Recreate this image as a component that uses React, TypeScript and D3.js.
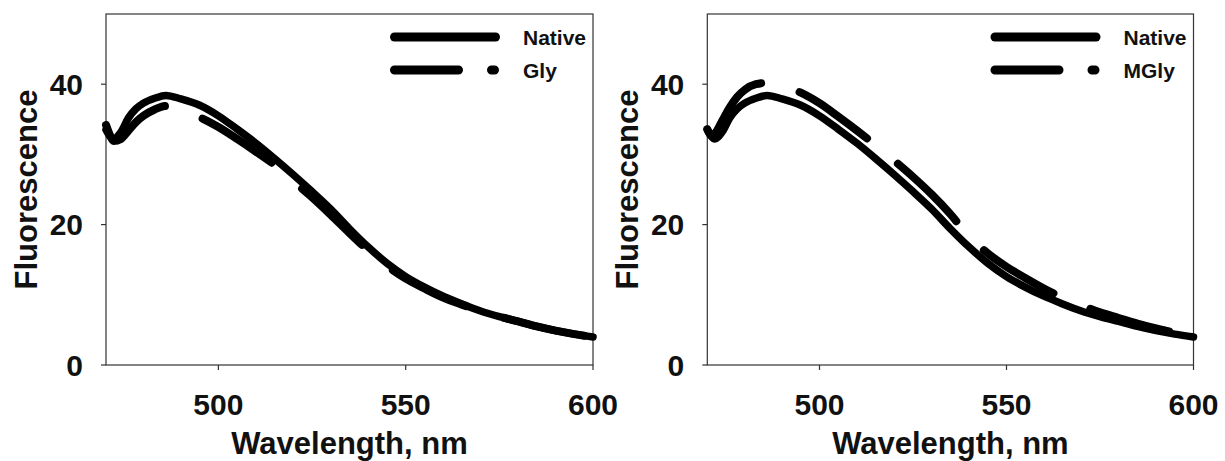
import * as d3 from 'd3';
import React from 'react';

// Emission spectra
const wavelengths = [470, 471, 472, 474, 476, 478, 480, 483, 486, 490, 495, 500, 505, 510, 515, 520,
  525, 530, 535, 540, 545, 550, 555, 560, 565, 570, 575, 580, 585, 590, 595, 600];

const native = [33.5, 32.6, 32.2, 33.2, 35.2, 36.5, 37.3, 38.0, 38.4, 37.9, 37.0, 35.5, 33.6, 31.6, 29.4, 27.1,
  24.7, 22.2, 19.4, 16.8, 14.5, 12.6, 11.1, 9.8, 8.7, 7.7, 6.9, 6.2, 5.5, 4.9, 4.4, 4.0];

const gly = [34.2, 32.8, 31.9, 32.2, 33.4, 34.6, 35.5, 36.4, 36.9, 36.4, 35.3, 33.9, 32.2, 30.4, 28.5, 26.2,
  23.9, 21.4, 18.8, 16.3, 14.1, 12.3, 10.9, 9.6, 8.6, 7.7, 6.9, 6.2, 5.5, 4.9, 4.4, 4.0];

const mgly = [33.6, 32.8, 33.0, 34.8, 36.7, 38.2, 39.2, 40.0, 40.2, 39.8, 38.8, 37.3, 35.4, 33.4, 31.3, 29.1,
  26.8, 24.3, 21.5, 18.3, 15.9, 14.0, 12.4, 10.9, 9.6, 8.5, 7.5, 6.7, 5.9, 5.2, 4.6, 4.2];

const xTicks = [500, 550, 600];
const yTicks = [0, 20, 40];

const FONT = '"Liberation Sans", Arial, sans-serif';
const DASH = '82 40';

type PanelProps = {
  left: number;
  right: number;
  modified: number[];
  label: string;
};

const Panel = ({ left, right, modified, label }: PanelProps) => {
  const top = 14;
  const bottom = 365;

  const x = d3.scaleLinear().domain([470, 600]).range([left, right]);
  const y = d3.scaleLinear().domain([0, 50]).range([bottom, top]);

  const line = d3
    .line<number>()
    .x((_, i) => x(wavelengths[i]))
    .y((d) => y(d))
    .curve(d3.curveMonotoneX);

  // legend placement
  const lgX = right - 203;
  const lgTxt = right - 70;

  return (
    <g>
      {/* frame */}
      <rect x={left} y={top} width={right - left} height={bottom - top}
        fill="none" stroke="#333" strokeWidth={1.2} />

      {/* y ticks */}
      {yTicks.map((t) => (
        <g key={'y' + t}>
          <line x1={left - 5} x2={left} y1={y(t)} y2={y(t)} stroke="#333" strokeWidth={1.2} />
          <text x={left - 23} y={y(t)} dy="0.36em" textAnchor="end"
            fontFamily={FONT} fontWeight="bold" fontSize={30} fill="#111">{t}</text>
        </g>
      ))}

      {/* x ticks */}
      {xTicks.map((t) => (
        <g key={'x' + t}>
          <line x1={x(t)} x2={x(t)} y1={bottom} y2={bottom + 5} stroke="#333" strokeWidth={1.2} />
          <text x={x(t)} y={bottom + 50} textAnchor="middle"
            fontFamily={FONT} fontWeight="bold" fontSize={30} fill="#111">{t}</text>
        </g>
      ))}

      {/* axis titles */}
      <text x={(left + right) / 2} y={454} textAnchor="middle"
        fontFamily={FONT} fontWeight="bold" fontSize={31} fill="#111">Wavelength, nm</text>
      <text transform={`translate(${left - 69},${(top + bottom) / 2}) rotate(-90)`} textAnchor="middle"
        fontFamily={FONT} fontWeight="bold" fontSize={31} fill="#111">Fluorescence</text>

      {/* curves */}
      <path d={line(native) ?? ''} fill="none" stroke="#000" strokeWidth={7.5}
        strokeLinecap="round" strokeLinejoin="round" />
      <path d={line(modified) ?? ''} fill="none" stroke="#000" strokeWidth={8}
        strokeLinecap="round" strokeLinejoin="round" strokeDasharray={DASH} />

      {/* legend */}
      <line x1={lgX + 4.5} x2={lgX + 105.5} y1={top + 23} y2={top + 23}
        stroke="#000" strokeWidth={9} strokeLinecap="round" />
      <text x={lgTxt} y={top + 31} fontFamily={FONT} fontWeight="bold" fontSize={21} fill="#111">Native</text>
      <line x1={lgX + 4.5} x2={lgX + 105.5} y1={top + 56} y2={top + 56}
        stroke="#000" strokeWidth={9} strokeLinecap="round" strokeDasharray="64 33 3 100" />
      <text x={lgTxt} y={top + 64} fontFamily={FONT} fontWeight="bold" fontSize={21} fill="#111">{label}</text>
    </g>
  );
};

export default function App() {
  return (
    <div>
      <style>{'body{margin:0;background:#fff}'}</style>
      <svg width={1225} height={461} style={{ display: 'block' }}>
        <rect width={1225} height={461} fill="#fff" />
        <Panel left={106} right={593} modified={gly} label="Gly" />
        <Panel left={707.3} right={1193.5} modified={mgly} label="MGly" />
      </svg>
    </div>
  );
}
